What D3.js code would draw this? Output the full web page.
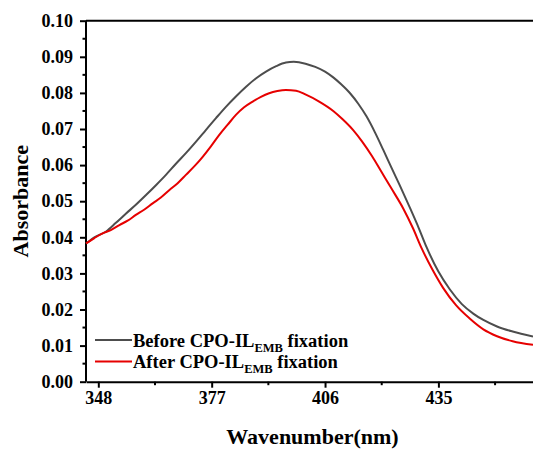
<!DOCTYPE html>
<html>
<head>
<meta charset="utf-8">
<script src="https://cdn.jsdelivr.net/npm/d3@7"></script>
<style>
  body { margin: 0; background: #fff; }
  svg text { font-family: "Liberation Serif", "Times New Roman", serif; font-weight: bold; fill: #000; }
</style>
</head>
<body>
<div id="chart"></div>
<script>
// wavelength (nm) / absorbance
const beforeNm = [344.85, 347, 350.0, 352.5, 355.1, 357.6, 360.2, 362.8, 365.3, 367.8, 370.4, 373.0, 375.5, 378.1, 380.7, 383.2, 385.8, 388.3, 390.9, 393.5, 396.0, 398.0, 401.0, 403.5, 406.0, 408.1, 410.2, 412.4, 414.5, 416.6, 418.8, 420.9, 423.2, 425.5, 427.7, 430.0, 432.0, 435.0, 437.9, 441.0, 444.0, 446.5, 450.0, 454.0, 459.2];
const beforeAbs = [0.0383, 0.0400, 0.0416, 0.0440, 0.0466, 0.0490, 0.0517, 0.0545, 0.0573, 0.0603, 0.0633, 0.0665, 0.0697, 0.0730, 0.0762, 0.0790, 0.0817, 0.0840, 0.0859, 0.0874, 0.0884, 0.0886, 0.0881, 0.0872, 0.0859, 0.0843, 0.0823, 0.0799, 0.0770, 0.0735, 0.0690, 0.0642, 0.0588, 0.0535, 0.0482, 0.0425, 0.0372, 0.0305, 0.0256, 0.0215, 0.0188, 0.0171, 0.0153, 0.0139, 0.0125];

const afterNm = [344.85, 347, 349.1, 351.2, 353.4, 355.5, 357.6, 359.8, 361.9, 364.0, 366.2, 368.3, 370.4, 372.6, 374.7, 376.8, 378.9, 381.1, 383.2, 385.3, 387.5, 389.6, 391.7, 393.8, 396.0, 398.6, 401.1, 404.5, 408.1, 410.5, 413.2, 415.5, 418.0, 420.5, 423.0, 426.0, 428.5, 430.7, 433.5, 436.2, 439.5, 443.0, 446.5, 450.0, 454.0, 459.2];
const afterAbs = [0.0383, 0.0398, 0.0411, 0.0420, 0.0434, 0.0446, 0.0462, 0.0477, 0.0494, 0.0510, 0.0531, 0.0550, 0.0573, 0.0597, 0.0623, 0.0652, 0.0683, 0.0712, 0.0739, 0.0760, 0.0776, 0.0789, 0.0799, 0.0805, 0.0808, 0.0806, 0.0795, 0.0776, 0.0750, 0.0727, 0.0697, 0.0665, 0.0625, 0.0580, 0.0535, 0.0480, 0.0425, 0.0370, 0.0310, 0.0260, 0.0212, 0.0175, 0.0145, 0.0126, 0.0112, 0.0102];

const xTicks = [348, 377, 406, 435];
const xMinor = [362.5, 391.5, 420.5, 449.5];
const yTicks = [0.00, 0.01, 0.02, 0.03, 0.04, 0.05, 0.06, 0.07, 0.08, 0.09, 0.10];
const yMinor = [0.005, 0.015, 0.025, 0.035, 0.045, 0.055, 0.065, 0.075, 0.085, 0.095];

const width = 533, height = 450;
const margin = { top: 20.7, right: 0, bottom: 68.3, left: 86 };

const svg = d3.select("#chart").append("svg")
    .attr("width", width)
    .attr("height", height);

const x = d3.scaleLinear()
    .domain([344.85, 459.2])
    .range([margin.left, width - margin.right]);

const y = d3.scaleLinear()
    .domain([0, 0.10])
    .range([height - margin.bottom, margin.top]);

// top frame line (no right frame, image is cropped)
svg.append("line")
    .attr("x1", margin.left).attr("x2", width)
    .attr("y1", y(0.10)).attr("y2", y(0.10))
    .attr("stroke", "#000").attr("stroke-width", 2);

// x axis
const gx = svg.append("g")
    .attr("transform", `translate(0,${y(0)})`)
    .call(d3.axisBottom(x).tickValues(xTicks).tickSize(6).tickSizeOuter(0).tickPadding(4));
gx.append("g").selectAll("line")
    .data(xMinor)
    .join("line")
    .attr("x1", d => x(d)).attr("x2", d => x(d))
    .attr("y1", 0).attr("y2", 3.5)
    .attr("stroke", "#000").attr("stroke-width", 2);

// y axis
const gy = svg.append("g")
    .attr("transform", `translate(${margin.left},0)`)
    .call(d3.axisLeft(y).tickValues(yTicks).tickFormat(d3.format(".2f")).tickSize(6).tickSizeOuter(0).tickPadding(7));
gy.append("g").selectAll("line")
    .data(yMinor)
    .join("line")
    .attr("y1", d => y(d)).attr("y2", d => y(d))
    .attr("x1", 0).attr("x2", -3.5)
    .attr("stroke", "#000").attr("stroke-width", 2);

[gx, gy].forEach(g => {
  g.select(".domain").attr("stroke-width", 2);
  g.selectAll(".tick line").attr("stroke-width", 2);
  g.selectAll(".tick text")
    .style("font-family", "'Liberation Serif', 'Times New Roman', serif")
    .style("font-weight", "bold")
    .style("font-size", "18px")
    .attr("fill", "#000");
});
gy.select(".domain").attr("d", `M0,${y(0)}V${y(0.10)}`);

// curves
const line = d3.line()
    .x(d => x(d[0]))
    .y(d => y(d[1]))
    .curve(d3.curveMonotoneX);

const series = [
  { nm: beforeNm, abs: beforeAbs, color: "#4d4d4d" },
  { nm: afterNm, abs: afterAbs, color: "#e60000" }
];

svg.append("g").selectAll("path")
    .data(series)
    .join("path")
    .attr("d", s => line(s.nm.map((n, i) => [n, s.abs[i]])))
    .attr("fill", "none")
    .attr("stroke", s => s.color)
    .attr("stroke-width", 2);

// legend
const legend = [
  { pre: "Before CPO-IL", color: "#4d4d4d", y: 340 },
  { pre: "After CPO-IL", color: "#e60000", y: 361.5 }
];
const lg = svg.append("g").selectAll("g")
    .data(legend)
    .join("g");
lg.append("line")
    .attr("x1", 95).attr("x2", 132)
    .attr("y1", d => d.y).attr("y2", d => d.y)
    .attr("stroke", d => d.color).attr("stroke-width", 2);
const lt = lg.append("text")
    .attr("x", 133)
    .attr("y", d => d.y + 6.5)
    .style("font-size", "18.5px");
lt.append("tspan").text(d => d.pre);
lt.append("tspan").attr("dy", 5).style("font-size", "12.5px").text("EMB");
lt.append("tspan").attr("dy", -5).text(" fixation");

// axis titles
svg.append("text")
    .attr("x", (margin.left + width) / 2 + 3)
    .attr("y", 444)
    .attr("text-anchor", "middle")
    .style("font-size", "22px")
    .text("Wavenumber(nm)");

svg.append("text")
    .attr("transform", `translate(28,${(y(0) + y(0.10)) / 2}) rotate(-90)`)
    .attr("text-anchor", "middle")
    .style("font-size", "22px")
    .text("Absorbance");
</script>
</body>
</html>
